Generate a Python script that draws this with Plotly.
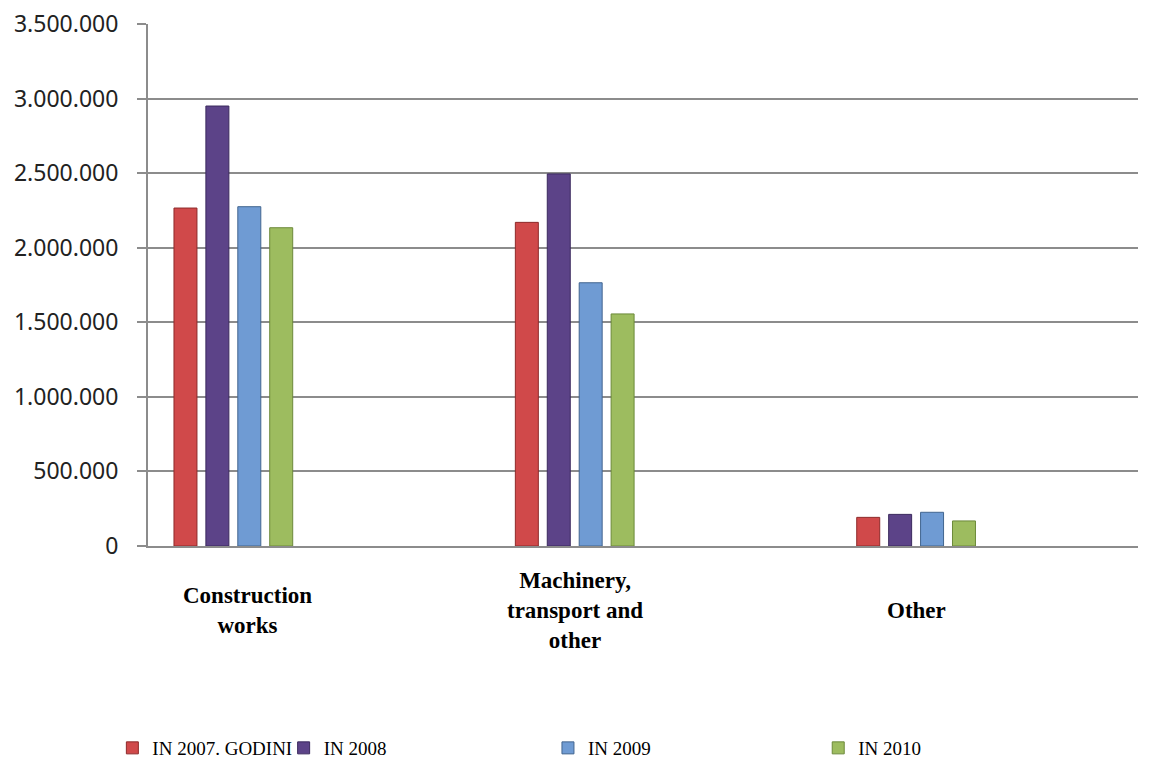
import plotly.graph_objects as go

categories = ["Construction<br>works", "Machinery,<br>transport and<br>other", "Other"]
series_names = ["IN 2007. GODINI", "IN 2008", "IN 2009", "IN 2010"]
values_2007 = [2266000, 2170000, 192000]
values_2008 = [2950000, 2495000, 212000]
values_2009 = [2275000, 1765000, 226000]
values_2010 = [2134000, 1556000, 168000]
y_ticks = [0, 500000, 1000000, 1500000, 2000000, 2500000, 3000000, 3500000]

colors = ["#d0494a", "#5c4388", "#6f9bd3", "#9dbc5f"]
edge = ["#8e2a2a", "#3b2a5e", "#42658f", "#6c8a3a"]
legend_x = [-0.036, 0.137, 0.404, 0.677]

fig = go.Figure()
xs = list(range(len(categories)))
for i, (name, vals) in enumerate(zip(series_names, [values_2007, values_2008, values_2009, values_2010])):
    fig.add_trace(go.Bar(
        x=xs, y=vals, name=name,
        marker=dict(color=colors[i], line=dict(color=edge[i], width=1)),
        legend="legend" if i == 0 else f"legend{i+1}",
    ))

legend_common = dict(orientation="h", yanchor="middle", xref="paper", yref="paper", y=-0.387,
                     font=dict(family="Liberation Serif", size=19, color="#000"),
                     bgcolor="rgba(0,0,0,0)", itemwidth=30, tracegroupgap=0)
layout_legends = {}
for i in range(4):
    key = "legend" if i == 0 else f"legend{i+1}"
    layout_legends[key] = dict(legend_common, x=legend_x[i], xanchor="left")

fig.update_layout(
    width=1145, height=754,
    margin=dict(l=140, r=15, t=16, b=216, autoexpand=False),
    paper_bgcolor="white", plot_bgcolor="white",
    barmode="group", bargap=0.626, bargroupgap=0.28,
    separators=",.",
    showlegend=True,
    **layout_legends,
)
fig.update_xaxes(
    range=[-0.25, 2.65], tickvals=xs, showticklabels=False,
    showgrid=False, showline=True, linecolor="#8c8c8c", linewidth=2,
    zeroline=False, automargin=False,
)
fig.update_yaxes(
    range=[0, 3500000], tickvals=y_ticks, tickformat=",d",
    showgrid=True, gridcolor="#8c8c8c", gridwidth=1.5,
    showline=True, linecolor="#8c8c8c", linewidth=2,
    ticks="outside", ticklen=9, tickcolor="#8c8c8c", tickwidth=1.5,
    ticklabelstandoff=14, ticklabeloverflow="allow",
    tickfont=dict(family="Noto Sans", size=23, color="#222"),
    zeroline=False, automargin=False,
)
label_dx = [0.04, 0.0, 0.0]
for i, c in enumerate(categories):
    fig.add_annotation(
        x=i + label_dx[i], y=-0.124, xref="x", yref="paper", text="<b>" + c + "</b>",
        showarrow=False, yanchor="middle", xanchor="center",
        font=dict(family="Liberation Serif", size=23, color="#000"),
    )

fig.write_html("out.html")
